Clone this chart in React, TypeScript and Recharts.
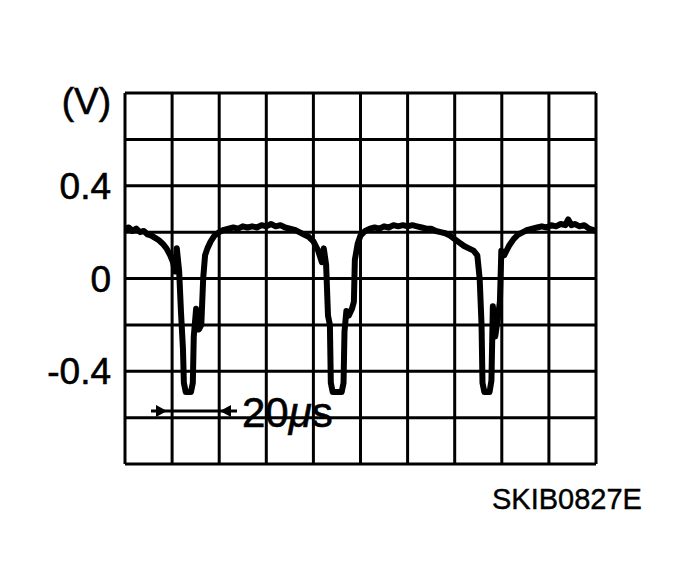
import { LineChart, Line, XAxis, YAxis, CartesianGrid } from 'recharts'

// time in µs (10 µs per division), voltage in V (0.2 V per division)
const TIME = [
  0, 0.8, 1.6, 2.4, 3.2, 4.0, 4.8, 5.6, 6.4, 7.2, 8.0, 8.8, 9.6, 10.2, 10.6, 11.0, 11.5, 11.9, 12.3,
  12.5, 12.9, 14.0, 14.4, 14.6, 15.1, 15.7, 16.2, 16.6, 17.0, 17.5, 18.2, 19.0, 20.0, 21, 22, 23,
  24, 25, 26, 27, 28, 29, 30, 31, 32, 33, 34, 35, 36, 37, 38, 39, 40, 41, 41.8, 42.2, 42.7, 43.1,
  43.5, 43.7, 44.1, 46.0, 46.4, 46.6, 47.0, 47.5, 48.2, 48.6, 48.8, 49.4, 50, 51, 52, 53, 54, 55,
  56, 57, 58, 59, 60, 61, 62, 63, 64, 65, 66, 67, 68, 69, 70, 71, 72, 73, 74, 74.8, 75.3, 75.7,
  75.9, 76.3, 77.4, 77.8, 78.1, 78.6, 79.1, 79.6, 79.9, 80.5, 81.5, 82.5, 83.5, 84.5, 85.5,
  86.5, 87.5, 88.5, 89.5, 90.5, 91.5, 92.5, 93.5, 94.1, 94.8, 95.5, 96.5, 97.5, 98.5, 99.3, 100,
]
const VOLTS = [
  0.215, 0.22, 0.205, 0.215, 0.2, 0.205, 0.19, 0.185, 0.175, 0.165, 0.15, 0.13, 0.1, 0.07, 0.03, 0.13, 0.03, -0.15, -0.3,
  -0.45, -0.49, -0.49, -0.45, -0.25, -0.13, -0.22, -0.2, 0.0, 0.1, 0.13, 0.16, 0.185, 0.2, 0.21, 0.215, 0.22,
  0.215, 0.225, 0.22, 0.225, 0.22, 0.23, 0.225, 0.235, 0.225, 0.23, 0.22, 0.215, 0.21, 0.2, 0.19, 0.18, 0.16, 0.12, 0.07, 0.13, 0.06, -0.16,
  -0.2, -0.45, -0.49, -0.49, -0.45, -0.23, -0.14, -0.16, -0.13, -0.1, 0.08, 0.15, 0.185, 0.205, 0.215, 0.22, 0.215, 0.225,
  0.22, 0.23, 0.225, 0.23, 0.225, 0.23, 0.225, 0.22, 0.215, 0.215, 0.205, 0.2, 0.195, 0.185, 0.17, 0.155, 0.14, 0.13, 0.12, 0.1, 0.0, -0.2,
  -0.45, -0.49, -0.49, -0.44, -0.12, -0.25, -0.18, -0.1, 0.12, 0.1, 0.14, 0.17, 0.19, 0.2, 0.21,
  0.215, 0.22, 0.225, 0.22, 0.23, 0.225, 0.235, 0.23, 0.255, 0.23, 0.235, 0.225, 0.23, 0.215, 0.21, 0.205,
]
const X_TICKS = [0, 10, 20, 30, 40, 50, 60, 70, 80, 90, 100]
const Y_TICKS = [-0.8, -0.6, -0.4, -0.2, 0, 0.2, 0.4, 0.6, 0.8]
const Y_LABELS: Record<string, string> = { '0.8': '(V)', '0.4': '0.4', '0': '0', '-0.4': '-0.4' }

const data = TIME.map((t, i) => ({ t, v: VOLTS[i] }))

const FONT = '"Liberation Sans", Arial, sans-serif'

const YTick = ({ x, y, payload }: any) => {
  const label = Y_LABELS[String(payload.value)]
  if (!label) return null
  const isUnit = label === '(V)'
  return (
    <text
      x={x}
      y={y + (isUnit ? 8 : 0)}
      dy={13}
      textAnchor="end"
      fontSize={37}
      fontFamily={FONT}
      fill="#000"
      stroke="#000"
      strokeWidth={0.6}
    >
      {label}
    </text>
  )
}

export default function App() {
  return (
    <div style={{ position: 'absolute', left: 0, top: 0, width: 681, height: 588, background: '#fff' }}>
      <LineChart width={681} height={588} data={data} margin={{ top: 93, right: 85, bottom: 124, left: 0 }}>
        <CartesianGrid stroke="#000" strokeWidth={3} />
        <XAxis dataKey="t" type="number" domain={[0, 100]} ticks={X_TICKS} hide />
        <YAxis
          type="number"
          domain={[-0.8, 0.8]}
          ticks={Y_TICKS}
          width={125}
          axisLine={false}
          tickLine={false}
          tickMargin={8}
          tick={<YTick />}
        />
        <Line
          type="linear"
          dataKey="v"
          stroke="#000"
          strokeWidth={6}
          strokeLinejoin="round"
          dot={false}
          isAnimationActive={false}
        />
      </LineChart>

      {/* 20 µs scale marker */}
      <svg width={681} height={588} style={{ position: 'absolute', left: 0, top: 0 }}>
        <line x1={151} y1={411} x2={237} y2={411} stroke="#000" strokeWidth={3} />
        <polygon points="167,411 156,405 156,417" fill="#000" />
        <polygon points="220,411 231,405 231,417" fill="#000" />
      </svg>
      <div
        style={{
          position: 'absolute', left: 242, top: 392, fontFamily: FONT, fontSize: 42,
          lineHeight: '42px', color: '#000', WebkitTextStroke: '0.6px #000',
        }}
      >
        20<span style={{ fontStyle: 'italic' }}>μ</span>s
      </div>
      <div
        style={{
          position: 'absolute', left: 492, top: 483, fontFamily: FONT, fontSize: 29,
          lineHeight: '32px', color: '#000', WebkitTextStroke: '0.4px #000',
        }}
      >
        SKIB0827E
      </div>
    </div>
  )
}
